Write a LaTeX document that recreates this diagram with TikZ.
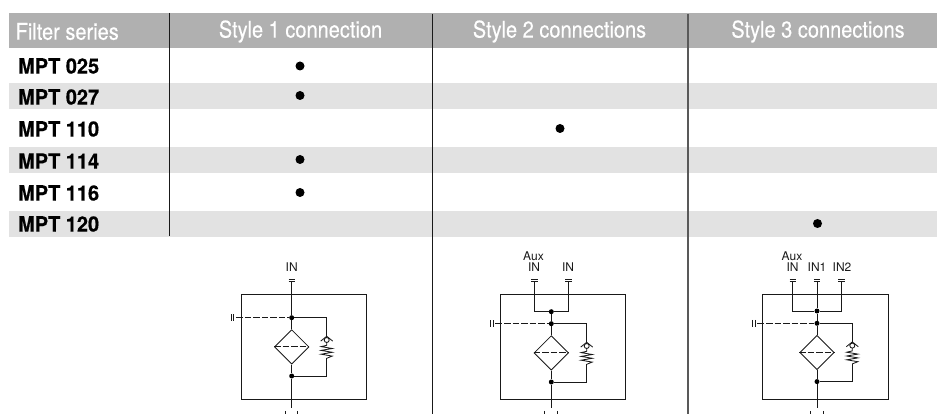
\documentclass[tikz,border=0pt]{standalone}
\usepackage{fontspec}
\setmainfont{TeX Gyre Heros}
\newfontfamily\headfont{TeX Gyre Heros}[FakeStretch=0.87,FakeBold=0.25]
\newfontfamily\rowfont{TeX Gyre Heros Bold}[FakeStretch=0.95,FakeBold=0.5]
\usetikzlibrary{shapes.geometric}
\definecolor{headgrey}{HTML}{B0B0B0}
\definecolor{rowgrey}{HTML}{E2E2E2}
\tikzset{
  headtext/.style={text=white,font=\headfont\fontsize{23}{23}\selectfont,inner sep=0pt},
  rowtext/.style={anchor=west,font=\rowfont\fontsize{21}{21}\selectfont,inner sep=0pt},
  mark dot/.style={circle,fill=black,minimum size=9pt,inner sep=0pt},
  sep line/.style={line width=1pt,black!90},
  wire/.style={line width=0.85pt,black!90},
  dash wire/.style={wire,dash pattern=on 6.5pt off 2pt},
  junction/.style={circle,fill=black,minimum size=5pt,inner sep=0pt},
  filter box/.style={diamond,draw,line width=0.85pt,black!90,minimum width=34.5pt,minimum height=34.5pt,inner sep=0pt,aspect=1},
  portlabel/.style={font=\fontsize{12}{12}\selectfont,inner sep=0pt,black!90},
}
% #1 prefix, #2 stem x, #3 box left, #4 box right, #5 right branch x, #6 upper junction y
\newcommand{\hydport}[2]{%
  \draw[wire] (#1-3.2,#2) -- (#1+3.4,#2) (#1-3.2,#2+2.6) -- (#1+3.4,#2+2.6);}
\newcommand{\filterunit}[6]{%
  \draw[wire] (#3,294.5) rectangle (#4,399.2);
  \node[junction] (#1top) at (#2,#6) {};
  \node[junction] (#1bot) at (#2,#6+58.3) {};
  \node[filter box] (#1fil) at (#2,#6+29.2) {};
  \coordinate (#1out) at (#2,408);
  \coordinate (#1pil) at (#3-5,#6);
  \coordinate (#1ra) at (#5,#6);
  \coordinate (#1rb) at (#5,#6+58.3);
  \coordinate (#1chk) at (#5,#6+22.3);
  \coordinate (#1spr) at (#5,#6+27.6);
  \coordinate (#1spe) at (#5,#6+40.6);
  \draw[wire] (#1top) -- (#1fil) (#1fil) -- (#1bot) -- (#1out);
  \draw[dash wire] (#1fil.west) -- (#1fil.east);
  \draw[dash wire] (#1pil) -- (#1top);
  \draw[wire] (#1top) -- (#1ra) -- (#1chk);
  \draw[wire] (#1spe) -- (#1rb) -- (#1bot);
  \draw[wire,fill=white] (#1chk) circle (2.5pt);
  \draw[wire] (#5-6,#6+23.4) -- (#5,#6+18.6) -- (#5+6,#6+23.4);
  \draw[wire] (#5,#6+24.8) -- (#1spr) -- (#5-5.5,#6+28.9) -- (#5+5.5,#6+30.8) -- (#5-5.5,#6+32.7) -- (#5+5.5,#6+34.6) -- (#5-5.5,#6+36.5) -- (#5+5.5,#6+38.4) -- (#1spe);
  \draw[wire] (#3-10,#6-3.4) -- (#3-10,#6+3.4) (#3-7.6,#6-3.4) -- (#3-7.6,#6+3.4);
  \draw[wire] (#3-5.4,#6) -- (#3,#6);
  \draw[wire] (#2-6.5,410.8) -- (#2-6.5,414) (#2+6,410.8) -- (#2+6,414);
}
\begin{document}
\begin{tikzpicture}[x=1pt,y=-1pt]
\useasboundingbox (0,0) rectangle (937,414);
\fill[headgrey] (9,13) rectangle (937,48);
\foreach \a/\b in {83/109,147/173,211/237} \fill[rowgrey] (9,\a) rectangle (937,\b);
\node[headtext,anchor=west] (h0) at (15.5,31.5) {Filter series};
\node[headtext] (h1) at (300.5,31.5) {Style 1 connection};
\node[headtext] (h2) at (559.5,31.5) {Style 2 connections};
\node[headtext] (h3) at (818,31.5) {Style 3 connections};
\node[rowtext] (r1) at (18,66) {MPT 025};
\node[rowtext] (r2) at (18,97) {MPT 027};
\node[rowtext] (r3) at (18,129) {MPT 110};
\node[rowtext] (r4) at (18,161) {MPT 114};
\node[rowtext] (r5) at (18,193) {MPT 116};
\node[rowtext] (r6) at (18,224) {MPT 120};
\node[mark dot] (d1) at (300,66) {};
\node[mark dot] (d2) at (300,95.5) {};
\node[mark dot] (d3) at (560,128.5) {};
\node[mark dot] (d4) at (300,159.5) {};
\node[mark dot] (d5) at (300,192.5) {};
\node[mark dot] (d6) at (817.5,223.5) {};
\draw[sep line] (169.5,13) -- (169.5,236);
\draw[sep line] (432,14) -- (432,414);
\draw[sep line,black!65,line width=1.1pt] (688,14) -- (688,414);
% unit 1
\filterunit{a}{291.7}{241.3}{366.3}{326.7}{317.7}
\hydport{291.7}{279}
\draw[wire] (291.7,281.6) -- (atop);
\node[portlabel] (la) at (291.7,267.5) {IN};
% unit 2
\filterunit{b}{551.3}{500.7}{625.7}{586.7}{323.7}
\hydport{534.3}{279}
\hydport{568.3}{279}
\coordinate (bp1) at (534.3,281.6);
\coordinate (bp2) at (568.3,281.6);
\node[junction] (bj) at (551.3,311.7) {};
\draw[wire] (bp1) |- (bj) -| (bp2);
\draw[wire] (bj) -- (btop);
\node[portlabel] (lb0) at (533.5,256.5) {Aux};
\node[portlabel] (lb1) at (534,267.5) {IN};
\node[portlabel] (lb2) at (568,267.5) {IN};
% unit 3
\filterunit{c}{817}{762.7}{888}{852.3}{323.3}
\hydport{792.7}{279}
\hydport{817}{279}
\hydport{841.3}{279}
\coordinate (cp1) at (792.7,281.6);
\coordinate (cp2) at (817,281.6);
\coordinate (cp3) at (841.3,281.6);
\node[junction] (cj) at (817,311) {};
\draw[wire] (cp1) |- (cj) -| (cp3);
\draw[wire] (cp2) -- (cj) -- (ctop);
\node[portlabel] (lc0) at (792,256.5) {Aux};
\node[portlabel] (lc1) at (792.5,267.5) {IN};
\node[portlabel] (lc2) at (817,267.5) {IN1};
\node[portlabel] (lc3) at (842,267.5) {IN2};
\end{tikzpicture}
\end{document}
